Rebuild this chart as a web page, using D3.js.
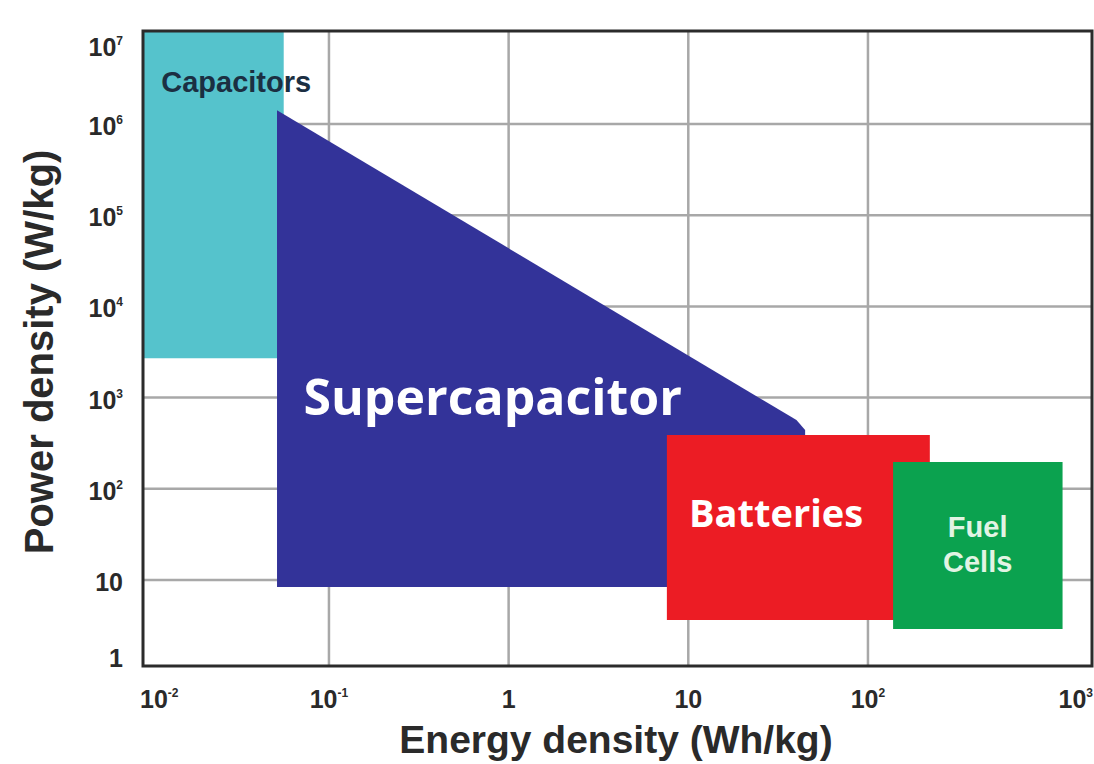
<!DOCTYPE html>
<html>
<head>
<meta charset="utf-8">
<script src="https://cdn.jsdelivr.net/npm/d3@7"></script>
<style>
  body { margin: 0; background: #fff; }
  text { font-family: "Liberation Sans", Arial, sans-serif; }
</style>
</head>
<body>
<div id="app"></div>
<script>
// tick values and their labels (base + superscript)
const xTicks = [0.01, 0.1, 1, 10, 100, 1000]
const xTickBase = ["10", "10", "1", "10", "10", "10"]
const xTickSup = ["-2", "-1", "", "", "2", "3"]
const yTicks = [1, 10, 1e2, 1e3, 1e4, 1e5, 1e6, 1e7]
const yTickBase = ["1", "10", "10", "10", "10", "10", "10", "10"]
const yTickSup = ["", "", "2", "3", "4", "5", "6", "7"]

// regions as [energy Wh/kg, power W/kg] corners
const capacitors = [[0.0092, 1.05e7], [0.056, 1.05e7], [0.056, 2700], [0.0092, 2700]]
const supercapacitor = [[0.0514, 1.42e6], [40, 568], [44.7, 442], [44.7, 8.4], [0.0514, 8.4]]
const batteries = [[7.6, 390], [221, 390], [221, 3.64], [7.6, 3.64]]
const fuelCells = [[138, 197], [1211, 197], [1211, 2.9], [138, 2.9]]

// label anchors [energy, power]
const labelNames = ["Capacitors", "Supercapacitor", "Batteries", "Fuel|Cells"]
const labelAt = [[0.01166, 2.24e6], [0.815, 645], [30.8, 38], [408, 29.6]]

var width = 1094, height = 764
var plot = { left: 143, right: 1092, top: 31, bottom: 666 }

var x = d3.scaleLog()
  .domain([Math.pow(10, -2.035), Math.pow(10, 3.247)])
  .range([plot.left, plot.right])

var y = d3.scaleLog()
  .domain([Math.pow(10, 0.057), Math.pow(10, 7.02)])
  .range([plot.bottom, plot.top])

var svg = d3.select("#app")
  .append("svg")
  .attr("width", width)
  .attr("height", height)

// grid lines (interior ticks only)
svg.append("g")
  .selectAll("line")
  .data(xTicks.slice(1, -1))
  .enter()
  .append("line")
  .attr("x1", d => x(d)).attr("x2", d => x(d))
  .attr("y1", plot.top).attr("y2", plot.bottom)
  .attr("stroke", "#a8a8a8")
  .attr("stroke-width", 2.5)

svg.append("g")
  .selectAll("line")
  .data(yTicks.slice(1, -1))
  .enter()
  .append("line")
  .attr("y1", d => y(d)).attr("y2", d => y(d))
  .attr("x1", plot.left).attr("x2", plot.right)
  .attr("stroke", "#a8a8a8")
  .attr("stroke-width", 2.5)

// regions
var line = d3.line()
  .x(d => x(d[0]))
  .y(d => y(d[1]))

var regions = [capacitors, supercapacitor, batteries, fuelCells]
var colors = ["#55c3cc", "#333399", "#ec1c24", "#0ba24f"]

svg.append("g")
  .selectAll("path")
  .data(regions)
  .enter()
  .append("path")
  .attr("d", d => line(d) + "Z")
  .style("fill", (d, i) => colors[i])

// frame
svg.append("rect")
  .attr("x", plot.left).attr("y", plot.top)
  .attr("width", plot.right - plot.left).attr("height", plot.bottom - plot.top)
  .attr("fill", "none")
  .attr("stroke", "#2b2b2b")
  .attr("stroke-width", 3)

// x tick labels, end labels pushed to the frame edges
var last = xTicks.length - 1
var xl = svg.append("g")
  .selectAll("text")
  .data(xTicks)
  .enter()
  .append("text")
  .attr("y", 708)
  .attr("x", (d, i) => i == 0 ? plot.left - 3 : i == last ? plot.right + 1 : x(d))
  .attr("text-anchor", (d, i) => i == 0 ? "start" : i == last ? "end" : "middle")
  .style("font-size", "25px")
  .style("font-weight", "bold")
  .attr("fill", "#2a2a2a")
xl.append("tspan").text((d, i) => xTickBase[i])
xl.append("tspan")
  .attr("dy", -11)
  .style("font-size", "12px")
  .text((d, i) => xTickSup[i])

// y tick labels
var yl = svg.append("g")
  .selectAll("text")
  .data(yTicks)
  .enter()
  .append("text")
  .attr("x", 123)
  .attr("y", (d, i) => {
    var p = y(d) + 11
    return Math.min(Math.max(p, 56), 667)
  })
  .attr("text-anchor", "end")
  .style("font-size", "25px")
  .style("font-weight", "bold")
  .attr("fill", "#2a2a2a")
yl.append("tspan").text((d, i) => yTickBase[i])
yl.append("tspan")
  .attr("dy", -11)
  .style("font-size", "12px")
  .text((d, i) => yTickSup[i])

// axis titles
svg.append("text")
  .attr("x", 616).attr("y", 753)
  .attr("text-anchor", "middle")
  .style("font-size", "39px")
  .style("font-weight", "bold")
  .attr("fill", "#2a2a2a")
  .text("Energy density (Wh/kg)")

svg.append("text")
  .attr("transform", "translate(53,352) rotate(-90)")
  .attr("text-anchor", "middle")
  .style("font-size", "40px")
  .style("font-weight", "bold")
  .attr("fill", "#2a2a2a")
  .text("Power density (W/kg)")

// region labels
var labelStyle = [
  { anchor: "start", size: 29, fill: "#1b2f42", font: "Liberation Sans" },
  { anchor: "middle", size: 50, fill: "#ffffff", font: "Open Sans" },
  { anchor: "middle", size: 38, fill: "#ffffff", font: "Open Sans" },
  { anchor: "middle", size: 29, fill: "#e2f4e4", font: "Liberation Sans" }
]

labelNames.forEach((name, i) => {
  var s = labelStyle[i]
  var t = svg.append("text")
    .attr("x", x(labelAt[i][0]))
    .attr("y", y(labelAt[i][1]))
    .attr("text-anchor", s.anchor)
    .style("font-family", s.font)
    .style("font-size", s.size + "px")
    .style("font-weight", "bold")
    .attr("fill", s.fill)
  name.split("|").forEach((part, j) => {
    t.append("tspan")
      .attr("x", x(labelAt[i][0]))
      .attr("dy", j == 0 ? 0 : 35)
      .text(part)
  })
})
</script>
</body>
</html>
